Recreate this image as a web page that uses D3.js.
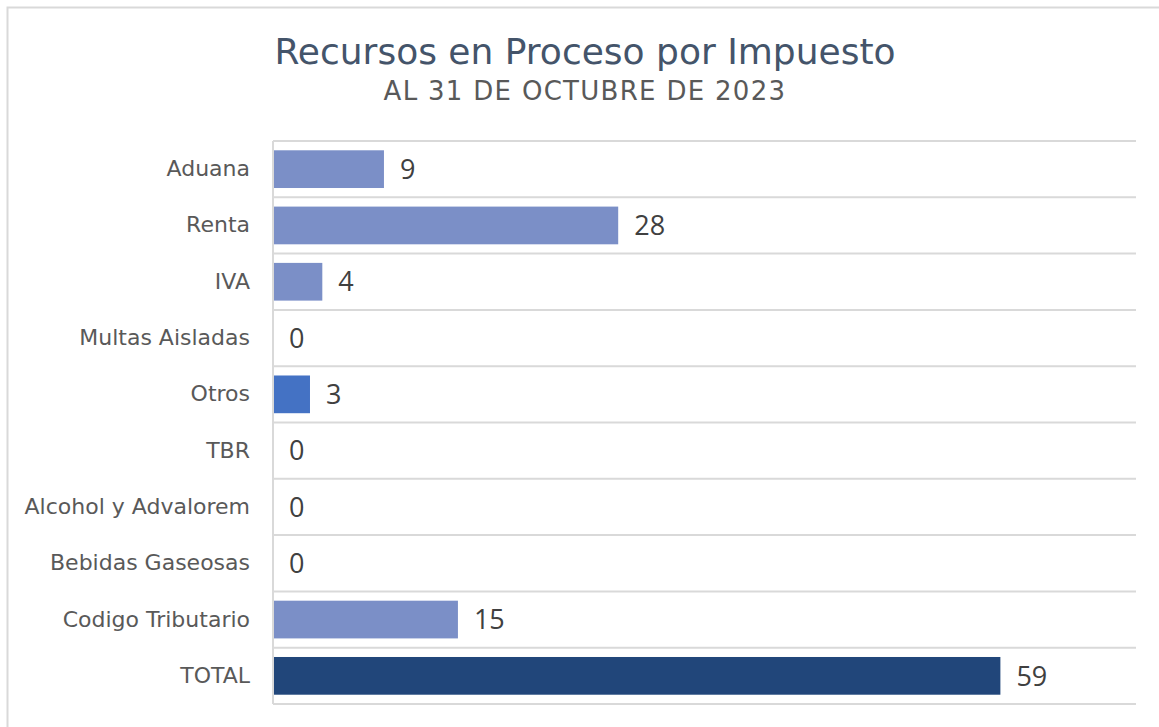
<!DOCTYPE html>
<html lang="es">
<head>
    <meta charset="UTF-8">
    <title>Recursos en Proceso por Impuesto</title>
    <script src="https://d3js.org/d3.v7.min.js"></script>
    <style>
        body { margin: 0; background: #fff; }
        text { font-family: "DejaVu Sans", sans-serif; }
    </style>
</head>
<body>
    <div id="chart-container"></div>

    <script>
        // data
        const categories = ["Aduana", "Renta", "IVA", "Multas Aisladas", "Otros", "TBR",
            "Alcohol y Advalorem", "Bebidas Gaseosas", "Codigo Tributario", "TOTAL"];
        const values = [9, 28, 4, 0, 3, 0, 0, 0, 15, 59];
        const barColors = ["#7b8fc7", "#7b8fc7", "#7b8fc7", "#7b8fc7", "#4472c4",
            "#7b8fc7", "#7b8fc7", "#7b8fc7", "#7b8fc7", "#21467a"];

        const containerWidth = 1159;
        const containerHeight = 727;
        const plot = { left: 273, right: 1136, top: 141, bottom: 704 };

        const data = categories.map((c, i) => ({ cat: c, value: values[i], color: barColors[i] }));

        const svg = d3.select("#chart-container")
            .append("svg")
            .attr("width", containerWidth)
            .attr("height", containerHeight);

        // outer frame
        svg.append("rect")
            .attr("x", 7.5).attr("y", 7.5)
            .attr("width", containerWidth + 10).attr("height", containerHeight + 10)
            .attr("fill", "none")
            .attr("stroke", "#d9d9d9")
            .attr("stroke-width", 2);

        // title
        svg.append("text")
            .attr("x", 585).attr("y", 64)
            .attr("text-anchor", "middle")
            .attr("fill", "#44546a")
            .style("font-size", "36px")
            .text("Recursos en Proceso por Impuesto");

        svg.append("text")
            .attr("x", 585).attr("y", 100)
            .attr("text-anchor", "middle")
            .attr("fill", "#595959")
            .style("font-size", "26px")
            .style("letter-spacing", "1.3px")
            .text("AL 31 DE OCTUBRE DE 2023");

        const x = d3.scaleLinear()
            .domain([0, 70])
            .range([plot.left, plot.right]);

        const y = d3.scaleBand()
            .domain(categories)
            .range([plot.top, plot.bottom])
            .paddingInner(0.33)
            .paddingOuter(0.165);

        // horizontal gridlines at band boundaries
        const step = y.step();
        const bounds = d3.range(categories.length + 1).map(i => plot.top + i * step);
        svg.append("g")
            .selectAll("line")
            .data(bounds)
            .join("line")
            .attr("x1", plot.left).attr("x2", plot.right)
            .attr("y1", d => d).attr("y2", d => d)
            .attr("stroke", "#d9d9d9")
            .attr("stroke-width", 2);

        // bars
        svg.append("g")
            .selectAll("rect")
            .data(data)
            .join("rect")
            .attr("x", x(0))
            .attr("y", d => y(d.cat))
            .attr("width", d => x(d.value) - x(0))
            .attr("height", y.bandwidth())
            .attr("fill", d => d.color);

        // left axis
        const yAxis = svg.append("g")
            .attr("transform", `translate(${plot.left},0)`)
            .call(d3.axisLeft(y).tickSize(0).tickPadding(23));
        yAxis.select(".domain")
            .attr("stroke", "#d9d9d9")
            .attr("stroke-width", 2)
            .attr("d", `M0,${plot.top}V${plot.bottom}`);
        yAxis.selectAll("text")
            .attr("fill", "#595959")
            .style("font-size", "22px")
            .style("font-family", "'DejaVu Sans', sans-serif");

        // value labels
        svg.append("g")
            .selectAll("text")
            .data(data)
            .join("text")
            .attr("x", d => x(d.value) + 16)
            .attr("y", d => y(d.cat) + y.bandwidth() / 2)
            .attr("dy", "0.36em")
            .attr("fill", "#404040")
            .style("font-size", "27px")
            .style("font-family", "'Open Sans', sans-serif")
            .text(d => d.value);
    </script>
</body>
</html>
